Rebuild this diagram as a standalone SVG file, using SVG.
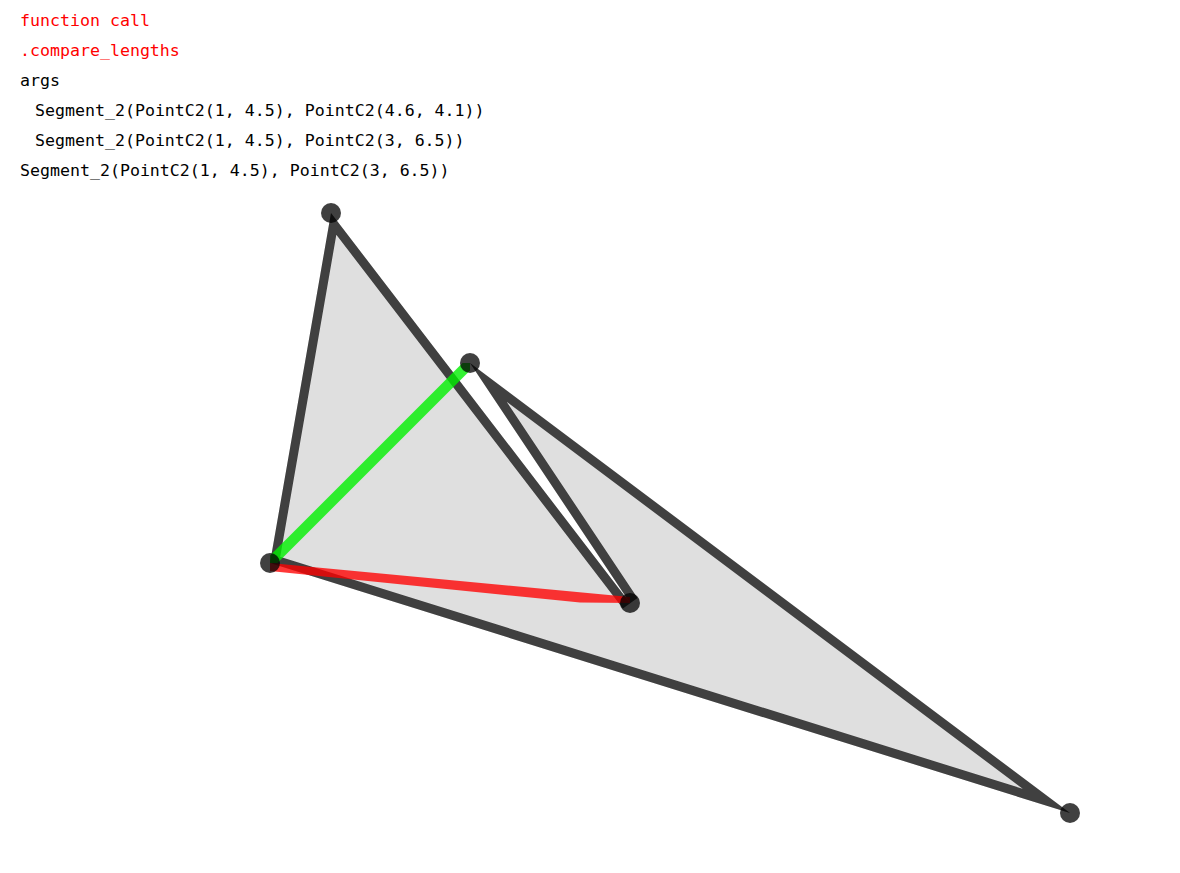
<svg xmlns="http://www.w3.org/2000/svg" xmlns:xlink="http://www.w3.org/1999/xlink" width="1180" height="873" viewBox="0 0 1180 873">
<style>
.t{font-family:"DejaVu Sans Mono","Liberation Mono",monospace;font-size:16.6px}
.red{fill:#ff0000}
.blk{fill:#000000}
.vtx{fill:#000000;fill-opacity:0.75}
</style>
<defs>
<polygon id="poly" points="270,563 331,213 630,603 470,363 1070,813"/>
<clipPath id="clip"><use xlink:href="#poly"/></clipPath>
</defs>
<rect width="1180" height="873" fill="#ffffff"/>
<g id="labels">
<text class="t red" x="20" y="26">function call</text>
<text class="t red" x="20" y="56">.compare_lengths</text>
<text class="t blk" x="20" y="86">args</text>
<text class="t blk" x="35" y="116">Segment_2(PointC2(1, 4.5), PointC2(4.6, 4.1))</text>
<text class="t blk" x="35" y="146">Segment_2(PointC2(1, 4.5), PointC2(3, 6.5))</text>
<text class="t blk" x="20" y="176">Segment_2(PointC2(1, 4.5), PointC2(3, 6.5))</text>
</g>
<g id="shape">
<use xlink:href="#poly" fill="#dfdfdf"/>
<use xlink:href="#poly" fill="none" stroke="#404040" stroke-width="18" stroke-linejoin="miter" stroke-miterlimit="10" clip-path="url(#clip)"/>
</g>
<g id="segments">
<polygon id="seg-green" points="270,555.5 462.5,363 470,363 470,370.5 277.5,563 270,563" fill="#00f000" fill-opacity="0.8"/>
<polygon id="seg-red" points="270,563 630,597 630,603 580,602.5 270,571" fill="#ff0000" fill-opacity="0.78"/>
</g>
<g id="vertices">
<circle class="vtx" cx="270" cy="563" r="10"/>
<circle class="vtx" cx="331" cy="213" r="10"/>
<circle class="vtx" cx="470" cy="363" r="10"/>
<circle class="vtx" cx="630" cy="603" r="10"/>
<circle class="vtx" cx="1070" cy="813" r="10"/>
</g>
</svg>
